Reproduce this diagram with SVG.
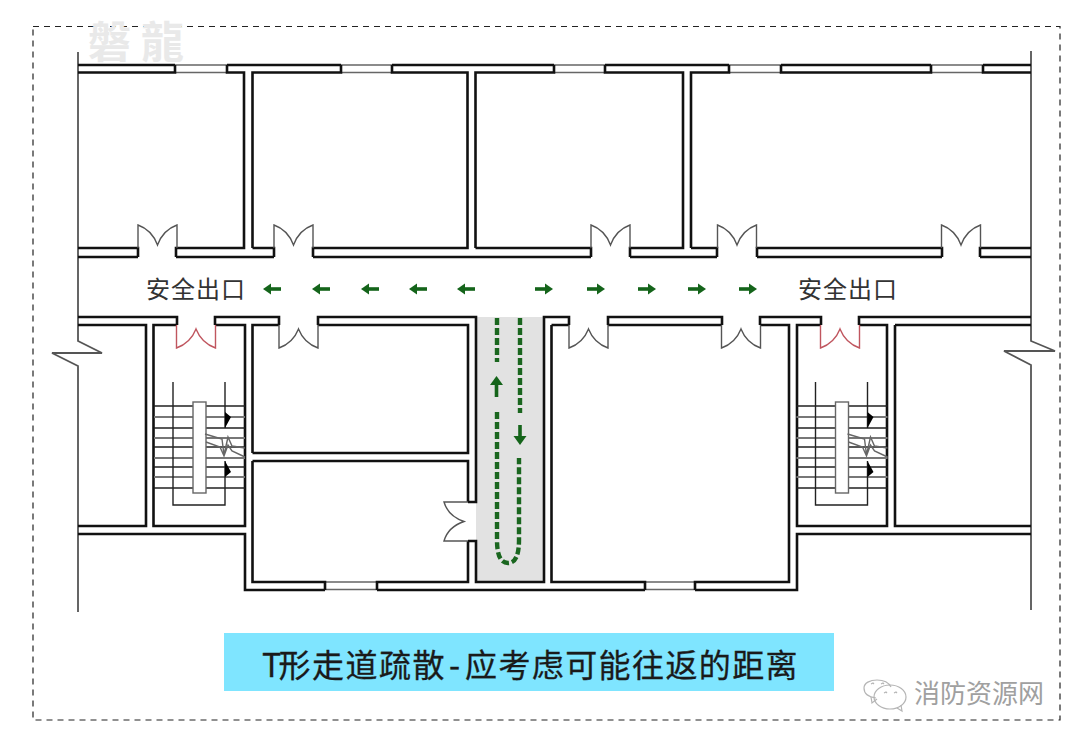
<svg xmlns="http://www.w3.org/2000/svg" width="1080" height="741" viewBox="0 0 1080 741">
<style>
.wall{fill:none;stroke:#111;stroke-width:2.6}
.thin{fill:none;stroke:#666;stroke-width:1.4}
.edge{fill:none;stroke:#555;stroke-width:1.8}
.door{fill:none;stroke:#555;stroke-width:1.4}
.red{stroke:#c0565f}
.st{stroke:#222;stroke-width:1.4;fill:none}
.stg{stroke:#777;stroke-width:2;fill:none}
.dash{fill:none;stroke:#1a661f;stroke-width:4.4;stroke-dasharray:7 3}
.ar{fill:none;stroke:#14641a;stroke-width:3.6}
.exit{font-family:"Noto Sans CJK SC","Liberation Sans",sans-serif;font-size:24px;letter-spacing:1px;fill:#333}
</style>
<defs>
<path id="du" d="M0,23V0Q14,5 19.5,20Q25,5 39,0V23"/>
<path id="dd" d="M0,0V23Q14,18 19.5,4Q25,18 39,23V0"/>
<g id="stair">
<path class="st" d="M154,406H245M154,428H245M154,447H245M154,467H245M154,488H245"/>
<path class="stg" d="M154,417H245M154,438H245M154,458H245M154,477H245"/>
<path class="st" d="M173,382V505H225V461M225,428V382"/>
<rect x="193" y="402" width="13" height="91" fill="#fff" stroke="#666" stroke-width="1.4"/>
<path d="M225,412L231,417L225,428ZM225,461L231,472L225,477Z" fill="#000"/>
<path class="thin" d="M205,434L222,439L224,455L228,437L232,446L245,448M206,442L220,447L224,456L228,445L232,451L245,457"/>
</g>
</defs>
<rect width="1080" height="741" fill="#fff"/>
<rect x="33" y="26.500" width="1027" height="693.500" fill="none" stroke="#222" stroke-width="1.2" stroke-dasharray="6 5"/>
<text x="88" y="58" font-family="'Noto Sans CJK TC',sans-serif" font-size="43" font-weight="700" letter-spacing="10" fill="#e9e9e9">磐龍</text>
<rect x="476" y="317" width="68" height="265" fill="#e2e2e2"/>
<g id="walls">
<path class="edge" d="M78,52V341L102,353H52L78,366V612"/>
<path class="edge" d="M1031,51V341L1055,351H1004L1031,365V610"/>
<path class="thin" d="M175,65H227M341,65H392M554,65H605M729,65H781M931,65H983M175,72.500H227M341,72.500H392M554,72.500H605M729,72.500H781M931,72.500H983M325,582H377M645,582H695M325,589.500H377M645,589.500H695"/>
<path class="wall" d="M78,65H175M227,65H341M392,65H554M605,65H729M781,65H931M983,65H1031"/>
<path class="wall" d="M78,72.500H175V65M227,65V72.500H244V248H176V257M138,257V248H78M78,257H138M176,257H274"/>
<path class="wall" d="M252.500,248V72.500H341V65M392,65V72.500H467.500V248H313V257M274,257V248H252.500M313,257H591"/>
<path class="wall" d="M475.500,248V72.500H554V65M605,65V72.500H683V248H630V257M591,257V248H475.500M630,257H717"/>
<path class="wall" d="M691,248V72.500H729V65M781,65V72.500H931V65M983,65V72.500H1031M691,248H717V257M757,257V248H942V257M980,257V248H1031M757,257H942M980,257H1031"/>
<path class="wall" d="M78,317H177V325M215,325V317H279V325M318,325V317H476V502H468M468,541H476V582H544V317H569V325M608,325V317H722V325M760,325V317H821V325M859,325V317H1031"/>
<path class="wall" d="M78,325H146V526H78M177,325H153.500V526H245V325H215M252.500,453V325H279M318,325H468V453H252.500"/>
<path class="wall" d="M252.500,461H468V502M468,541V582H377V590M325,590V582H252.500V461"/>
<path class="wall" d="M78,534H245V590H325M377,590H645M695,590H797V534H1031"/>
<path class="wall" d="M551.500,325H569M608,325H722M760,325H789V582H695V590M645,590V582H551.500V325"/>
<path class="wall" d="M821,325H797V526H887V325H859M895,325H1031M895,325V526H1031"/>
</g>
<g id="doors">
<use href="#du" x="138" y="225" class="door"/>
<use href="#du" x="274" y="225" class="door"/>
<use href="#du" x="591" y="225" class="door"/>
<use href="#du" x="717.500" y="225" class="door"/>
<use href="#du" x="941.500" y="225" class="door"/>
<use href="#dd" x="176.500" y="325" class="door red"/>
<use href="#dd" x="279" y="325" class="door"/>
<use href="#dd" x="569" y="325" class="door"/>
<use href="#dd" x="721.500" y="325" class="door"/>
<use href="#dd" x="820.500" y="325" class="door red"/>
<path class="door" d="M468,502H444Q448,516 464,521.500Q448,527 444,541H468"/>
</g>
<g id="stairs">
<use href="#stair"/>
<use href="#stair" x="642.500"/>
</g>
<g id="connectors">
<path class="dash" d="M497,318V362"/>
<path class="dash" d="M497,412V540Q497,563 508,563Q519,563 519,540V458"/>
<path class="dash" d="M520,318V413"/>
<path class="ar" d="M496.500,397V382" stroke-width="4.500"/>
<path d="M490,385L496.500,376L503,385Z" fill="#14641a"/>
<path class="ar" d="M520,425V438" stroke-width="4.500"/>
<path d="M513.500,436L520,445L526.500,436Z" fill="#14641a"/>
<g fill="#14641a">
<path class="ar" d="M281,289H268"/><path d="M271,283.500L263,289L271,294.500Z"/>
<path class="ar" d="M330,289H317"/><path d="M320,283.500L312,289L320,294.500Z"/>
<path class="ar" d="M379,289H366"/><path d="M369,283.500L361,289L369,294.500Z"/>
<path class="ar" d="M427,289H414"/><path d="M417,283.500L409,289L417,294.500Z"/>
<path class="ar" d="M475,289H462"/><path d="M465,283.500L457,289L465,294.500Z"/>
<path class="ar" d="M535,289H548"/><path d="M545,283.500L553,289L545,294.500Z"/>
<path class="ar" d="M587,289H600"/><path d="M597,283.500L605,289L597,294.500Z"/>
<path class="ar" d="M638,289H651"/><path d="M648,283.500L656,289L648,294.500Z"/>
<path class="ar" d="M688,289H701"/><path d="M698,283.500L706,289L698,294.500Z"/>
<path class="ar" d="M739,289H752"/><path d="M749,283.500L757,289L749,294.500Z"/>
</g>
</g>
<text class="exit" x="146" y="298">安全出口</text>
<text class="exit" x="798" y="298">安全出口</text>
<rect x="224" y="633" width="610" height="58" fill="#7fe5ff"/>
<text y="677" x="262 278.500 312 345.500 379 412.500 449 465 498.400 531.800 565.200 598.600 632 665.400 698.800 732.200 765.600" font-family="'Noto Sans CJK SC','Liberation Sans',sans-serif" font-size="32" stroke="#1a1a1a" stroke-width=".3" fill="#1a1a1a">T形走道疏散-应考虑可能往返的距离</text>
<g id="logo" fill="none" stroke="#b5b5b5" stroke-width="1.2">
<path d="M876,698C868,697 864,693 864,688C864,683 870,680 877,680C884,680 889,683 891,687"/>
<path d="M871,697L872,703L877,699"/>
<ellipse cx="890" cy="697" rx="16" ry="12"/>
<path d="M897,708L902,711L901,705"/>
<path d="M871,684l2,-1l1,1M881,684l2,-1l1,1M884,693l2,-1l1,1M894,693l2,-1l1,1"/>
</g>
<text x="914" y="703" font-family="'Noto Sans CJK SC','Liberation Sans',sans-serif" font-size="26" fill="#a0a0a0">消防资源网</text>
</svg>
